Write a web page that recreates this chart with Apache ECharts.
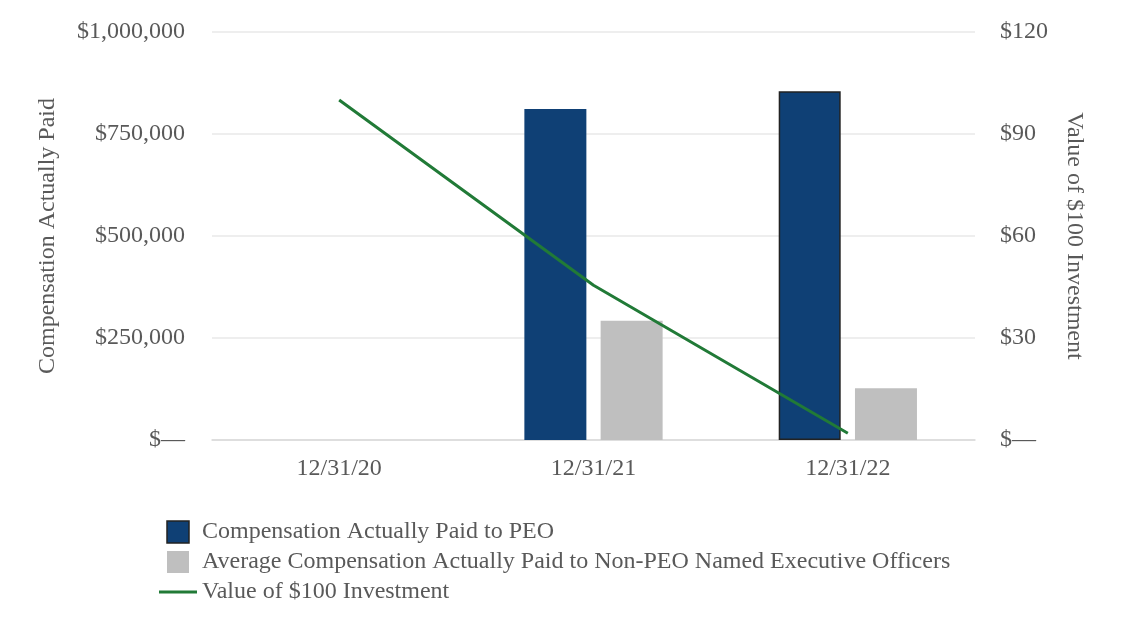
<!DOCTYPE html>
<html>
<head>
<meta charset="utf-8">
<script src="https://cdn.jsdelivr.net/npm/echarts@6/dist/echarts.min.js"></script>
<style>
html,body{margin:0;padding:0;background:#fff;}
#c{width:1126px;height:640px;}
</style>
</head>
<body>
<div id="c"></div>
<script>
const categories = ['12/31/20', '12/31/21', '12/31/22'];
const peoPaid = [null, 811000, 855000];
const neoPaid = [null, 292000, 127000];
const investValue = [100, 45.5, 2];
const leftTicks = [0, 250000, 500000, 750000, 1000000];
const rightTicks = [0, 30, 60, 90, 120];
const seriesNames = [
  'Compensation Actually Paid to PEO',
  'Average Compensation Actually Paid to Non-PEO Named Executive Officers',
  'Value of $100 Investment'
];

const FONT = 'Liberation Serif';
const FS = 24;
const TXT = '#595959';
const NAVY = '#0f4075';
const GRAY = '#bfbfbf';
const GREEN = '#217a37';

const chart = echarts.init(document.getElementById('c'));
chart.setOption({
  animation: false,
  textStyle: { fontFamily: FONT },
  grid: { left: 212, right: 151, top: 32, bottom: 200 },
  legend: {
    orient: 'vertical',
    left: 154,
    top: 515,
    itemWidth: 38,
    itemHeight: 22,
    itemGap: 6,
    symbolKeepAspect: true,
    textStyle: { fontFamily: FONT, fontSize: FS, lineHeight: 24, color: TXT },
    data: [
      { name: seriesNames[0], icon: 'path://M0,0h10v10h-10z', itemStyle: { color: NAVY, borderColor: '#222', borderWidth: 1.5 } },
      { name: seriesNames[1], icon: 'path://M0,0h10v10h-10z', itemStyle: { color: GRAY } },
      { name: seriesNames[2], icon: 'path://M0,0h38v3h-38z', itemStyle: { color: GREEN } }
    ]
  },
  xAxis: {
    type: 'category',
    data: categories,
    axisTick: { show: false },
    axisLine: { lineStyle: { color: '#d9d9d9', width: 1.5 } },
    axisLabel: { fontFamily: FONT, fontSize: FS, color: TXT, margin: 17 }
  },
  yAxis: [
    {
      type: 'value',
      min: leftTicks[0],
      max: leftTicks[leftTicks.length - 1],
      interval: leftTicks[1] - leftTicks[0],
      name: 'Compensation Actually Paid',
      nameLocation: 'middle',
      nameGap: 152,
      nameTextStyle: { fontFamily: FONT, fontSize: FS, color: TXT },
      axisLine: { show: false },
      axisTick: { show: false },
      splitLine: { lineStyle: { color: '#e8e8e8', width: 1.5 } },
      axisLabel: {
        fontFamily: FONT, fontSize: FS, color: TXT, margin: 27,
        formatter: v => v === 0 ? '$\u2014' : '$' + v.toLocaleString('en-US')
      }
    },
    {
      type: 'value',
      min: rightTicks[0],
      max: rightTicks[rightTicks.length - 1],
      interval: rightTicks[1] - rightTicks[0],
      position: 'right',
      name: 'Value of $100 Investment',
      nameLocation: 'middle',
      nameRotate: -90,
      nameGap: 87,
      nameTextStyle: { fontFamily: FONT, fontSize: FS, color: TXT },
      axisLine: { show: false },
      axisTick: { show: false },
      splitLine: { show: false },
      axisLabel: {
        fontFamily: FONT, fontSize: FS, color: TXT, margin: 25,
        formatter: v => v === 0 ? '$\u2014' : '$' + v
      }
    }
  ],
  series: [
    {
      name: seriesNames[0],
      type: 'bar',
      barWidth: 62,
      barGap: '23%',
      itemStyle: { color: NAVY },
      data: peoPaid.map((v, i) => i === 2 ? { value: v, itemStyle: { borderColor: '#222', borderWidth: 1.5 } } : v)
    },
    {
      name: seriesNames[1],
      type: 'bar',
      barWidth: 62,
      itemStyle: { color: GRAY },
      data: neoPaid
    },
    {
      name: seriesNames[2],
      type: 'line',
      yAxisIndex: 1,
      showSymbol: false,
      symbol: 'none',
      lineStyle: { color: GREEN, width: 3 },
      itemStyle: { color: GREEN },
      data: investValue,
      z: 5
    }
  ]
});
</script>
</body>
</html>
